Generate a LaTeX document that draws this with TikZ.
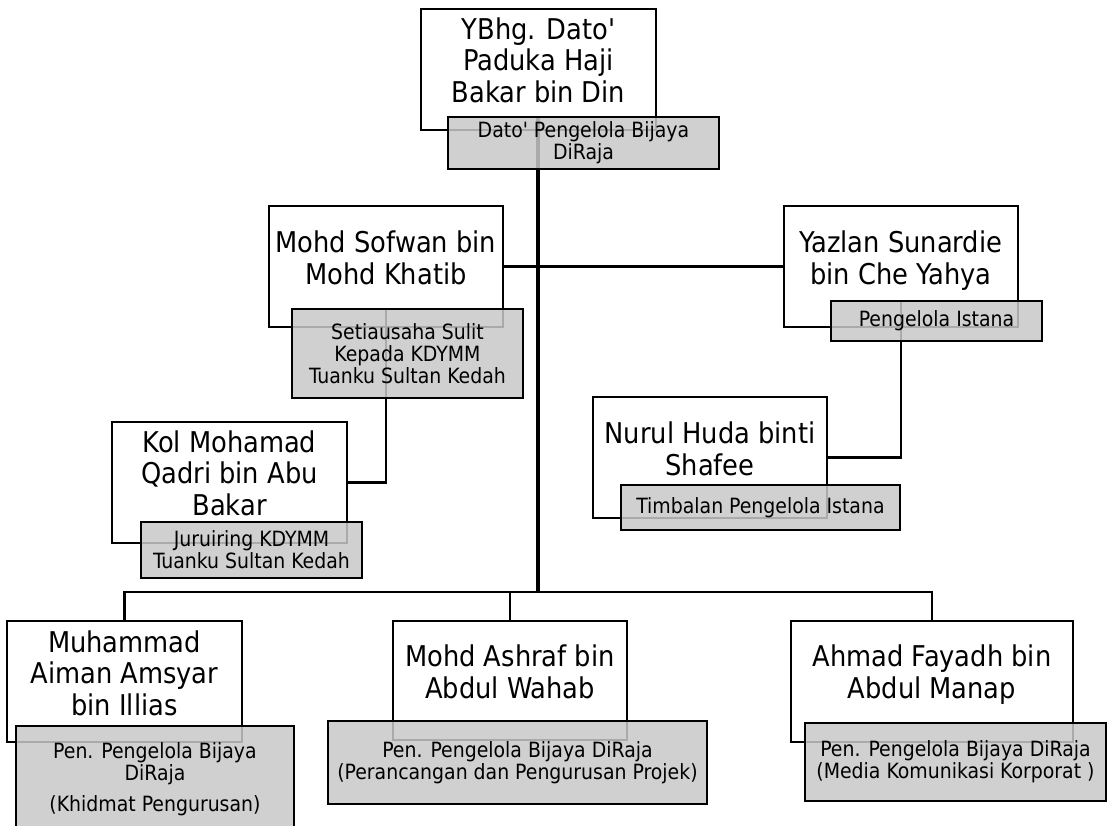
\documentclass[tikz,border=0pt]{standalone}
\usepackage{fontspec}
\setmainfont{DejaVu Sans Condensed}
\definecolor{boxgrey}{RGB}{200,200,200}
\newcommand{\bigfnt}{\fontsize{28.6}{31.5}\selectfont}
\newcommand{\smallfnt}{\fontsize{21}{22}\selectfont}
\begin{document}
\begin{tikzpicture}[x=1pt,y=-1pt,
  wbox/.style={draw, line width=2.4pt, fill=white, inner sep=0pt},
  gbox/.style={draw, line width=2.4pt, fill=boxgrey, fill opacity=0.85, text opacity=1, inner sep=0pt, font=\smallfnt, align=center},
  bigtxt/.style={font=\bigfnt, align=center, anchor=base, inner sep=0pt},
  conn/.style={line width=2.4pt},
  mainline/.style={line width=3.4pt}]
\useasboundingbox[fill=white] (0,0) rectangle (1107,825);
% white boxes
\node[wbox, minimum width=235, minimum height=121] (topw) at (538.5,69.5) {};
\node[wbox, minimum width=234, minimum height=121] (sow) at (386,266.5) {};
\node[wbox, minimum width=234, minimum height=121] (yaw) at (901,266.5) {};
\node[wbox, minimum width=234, minimum height=121] (nuw) at (710,457.5) {};
\node[wbox, minimum width=235, minimum height=121] (kow) at (229.5,482.5) {};
\node[wbox, minimum width=235, minimum height=121] (muw) at (124.5,681.5) {};
\node[wbox, minimum width=234, minimum height=119] (asw) at (510,680.5) {};
\node[wbox, minimum width=282, minimum height=121] (ahw) at (932,681.5) {};
% connectors
\coordinate (bar) at (538,592);
\coordinate (topg-n) at (538,117);
\draw[mainline] (topg-n) -- (bar);
\draw[conn] (muw.north) -- (muw.north |- bar) -- (ahw.north |- bar) -- (ahw.north);
\draw[conn] (asw.north) -- (asw.north |- bar);
\draw[conn] (sow.east) -- (yaw.west);
\coordinate (yag-n) at (901,301);
\coordinate (sog-n) at (386,309);
\draw[conn] (nuw.east) -| (yag-n);
\draw[conn] (kow.east) -| (sog-n);
% grey boxes
\node[gbox, minimum width=271, minimum height=52] (topg) at (583.5,143) {Dato\textquotesingle\ Pengelola Bijaya\\DiRaja};
\node[gbox, minimum width=231, minimum height=89] (sog) at (407.5,353.5) {Setiausaha Sulit\\Kepada KDYMM\\Tuanku Sultan Kedah};
\node[gbox, minimum width=211, minimum height=40] (yag) at (936.5,321) {Pengelola Istana};
\node[gbox, minimum width=279, minimum height=45] (nug) at (760.5,507.5) {Timbalan Pengelola Istana};
\node[gbox, minimum width=221, minimum height=56] (kog) at (251.5,550) {Juruiring KDYMM\\Tuanku Sultan Kedah};
\node[gbox, minimum width=278, minimum height=106] (mug) at (155,779) {Pen. Pengelola Bijaya\\DiRaja\\[9pt](Khidmat Pengurusan)};
\node[gbox, minimum width=379, minimum height=83] (asg) at (517.5,762.5) {Pen. Pengelola Bijaya DiRaja\\(Perancangan dan Pengurusan Projek)};
\node[gbox, minimum width=301, minimum height=78] (ahg) at (955.5,762) {Pen. Pengelola Bijaya DiRaja\\(Media Komunikasi Korporat )};
% names (anchor base = last line)
\node[bigtxt] (topt) at (538.5,102) {YBhg. Dato\textquotesingle\\Paduka Haji\\Bakar bin Din};
\node[bigtxt] (sot) at (386,284) {Mohd Sofwan bin\\Mohd Khatib};
\node[bigtxt] (yat) at (901,284) {Yazlan Sunardie\\bin Che Yahya};
\node[bigtxt] (nut) at (710,475) {Nurul Huda binti\\Shafee};
\node[bigtxt] (kot) at (229.5,515) {Kol Mohamad\\Qadri bin Abu\\Bakar};
\node[bigtxt] (mut) at (124.5,715) {Muhammad\\Aiman Amsyar\\bin Illias};
\node[bigtxt] (ast) at (510,698) {Mohd Ashraf bin\\Abdul Wahab};
\node[bigtxt] (aht) at (932,698) {Ahmad Fayadh bin\\Abdul Manap};
\end{tikzpicture}
\end{document}
